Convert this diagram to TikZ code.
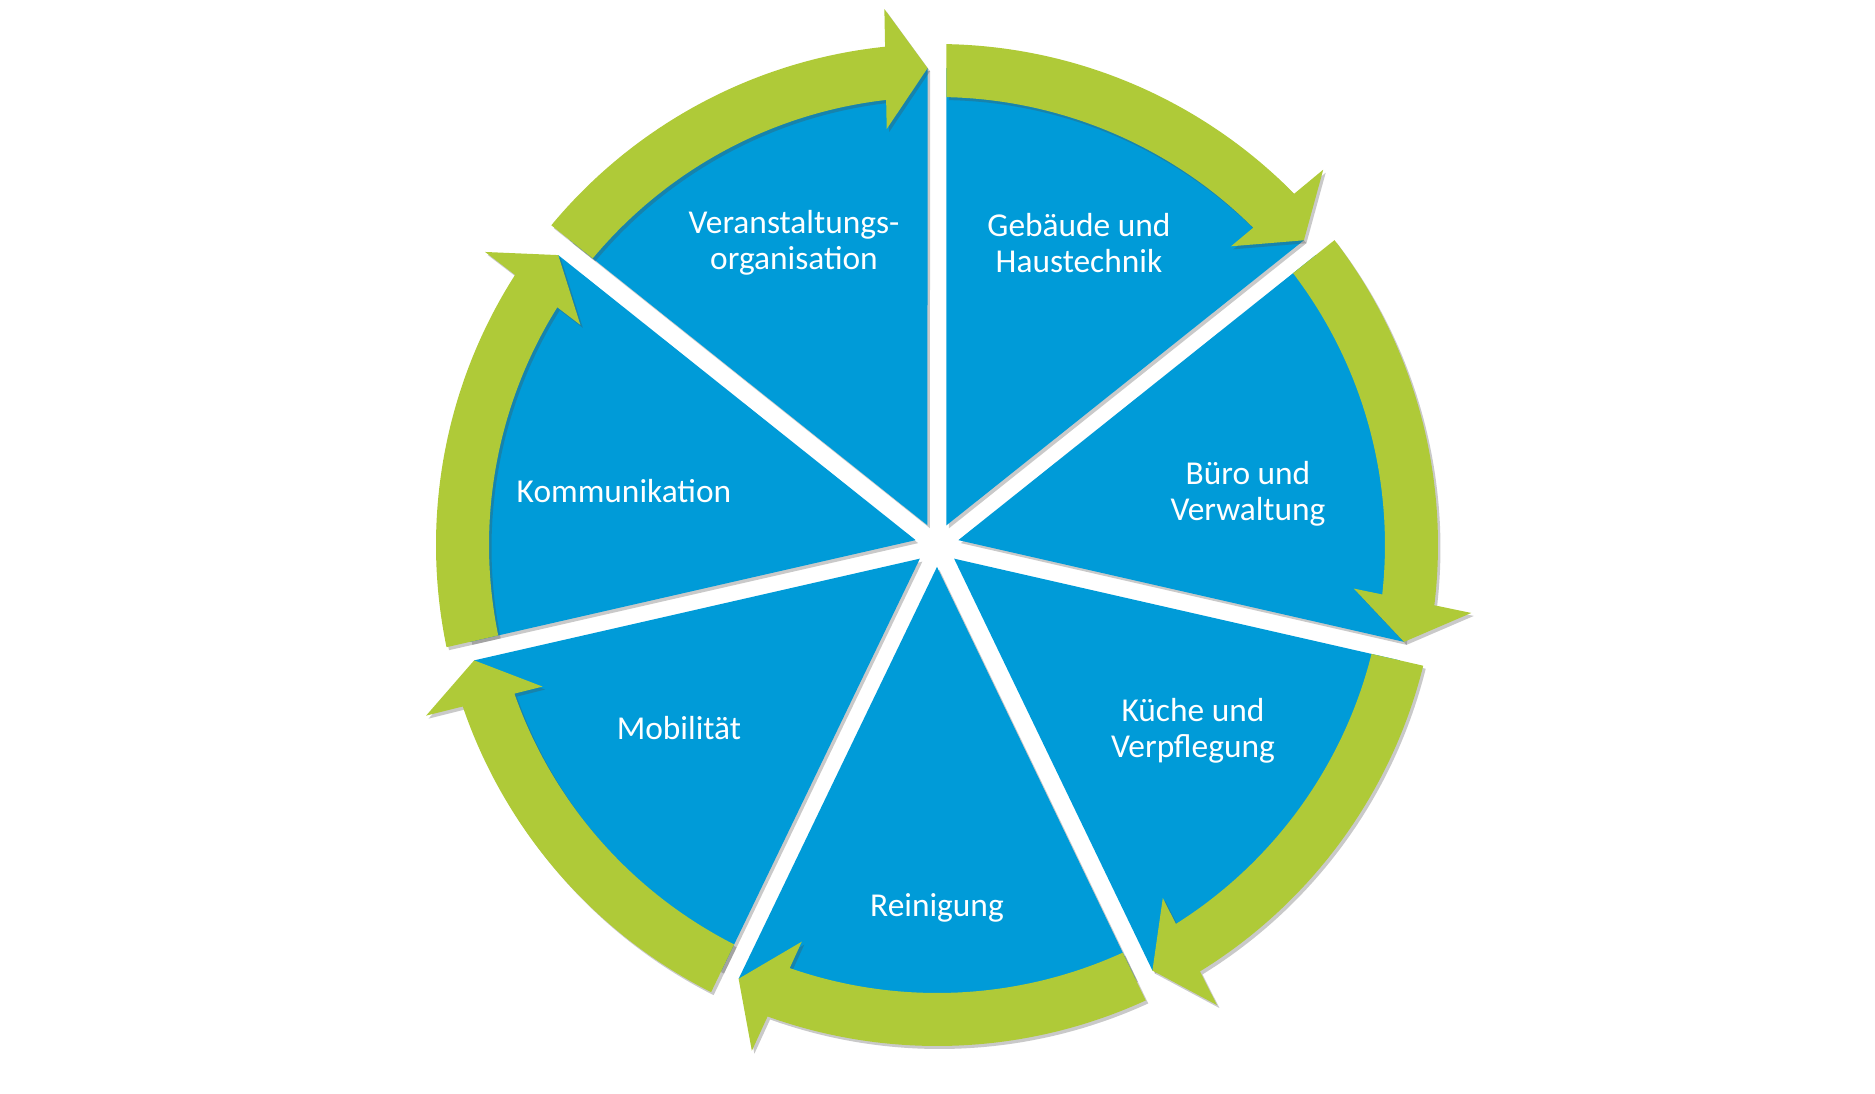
\documentclass[tikz,border=0pt]{standalone}
\usepackage{fontspec}
\setmainfont{Carlito}
\usepackage{tikz}
\usetikzlibrary{shadows}
\definecolor{wedgeblue}{HTML}{009BD8}
\definecolor{cyclegreen}{HTML}{AFCA38}
\tikzset{
    wedge/.style={fill=wedgeblue, drop shadow={shadow xshift=0.025cm, shadow yshift=-0.03cm, opacity=0.3, fill=black!70}},
    cyclearrow/.style={fill=cyclegreen, drop shadow={shadow xshift=0.025cm, shadow yshift=-0.03cm, opacity=0.3, fill=black!70}},
    seglabel/.style={text=white, align=center, font=\fontsize{9.5}{10.3}\selectfont, inner sep=0pt}
}

\begin{document}
\begin{tikzpicture}
  \useasboundingbox (-9.37,-5.48) rectangle (9.38,5.45);

  % blue segments, separated by white gaps
  \foreach \a in {0,...,6} {
    \pgfmathsetmacro{\lo}{90-(\a+1)*360/7}
    \fill[wedge] (\lo+25.714:0.219) -- (\lo+1.14:4.77)
      arc[start angle=\lo+1.14, end angle=\lo+50.29, radius=4.77] -- cycle;
  }

  % green arrows running clockwise around the ring
  \foreach \a in {0,...,6} {
    \pgfmathsetmacro{\s}{90-\a*360/7}
    \fill[cyclearrow] (\s-1.215:4.48) -- (\s-1.087:5.01)
      arc[start angle=\s-1.087, end angle=\s-45.48, radius=5.01]
      -- (\s-45.82:5.386) -- (\s-50.29:4.77) -- (\s-44.54:4.191) -- (\s-44.91:4.48)
      arc[start angle=\s-44.91, end angle=\s-1.215, radius=4.48] -- cycle;
  }

  % segment labels
  \node[seglabel] (lbl_veranst) at (-1.43,3.02) {Veranstaltungs-\\organisation};
  \node[seglabel] (lbl_gebaeude) at (1.42,3.02) {Gebäude und\\Haustechnik};
  \node[seglabel] (lbl_buero) at (3.11,0.51) {Büro und\\Verwaltung};
  \node[seglabel] (lbl_kueche) at (2.56,-1.86) {Küche und\\Verpflegung};
  \node[seglabel] (lbl_reinigung) at (0,-3.63) {Reinigung};
  \node[seglabel] (lbl_mobil) at (-2.58,-1.83) {Mobilität};
  \node[seglabel] (lbl_komm) at (-3.13,0.54) {Kommunikation};

\end{tikzpicture}
\end{document}
